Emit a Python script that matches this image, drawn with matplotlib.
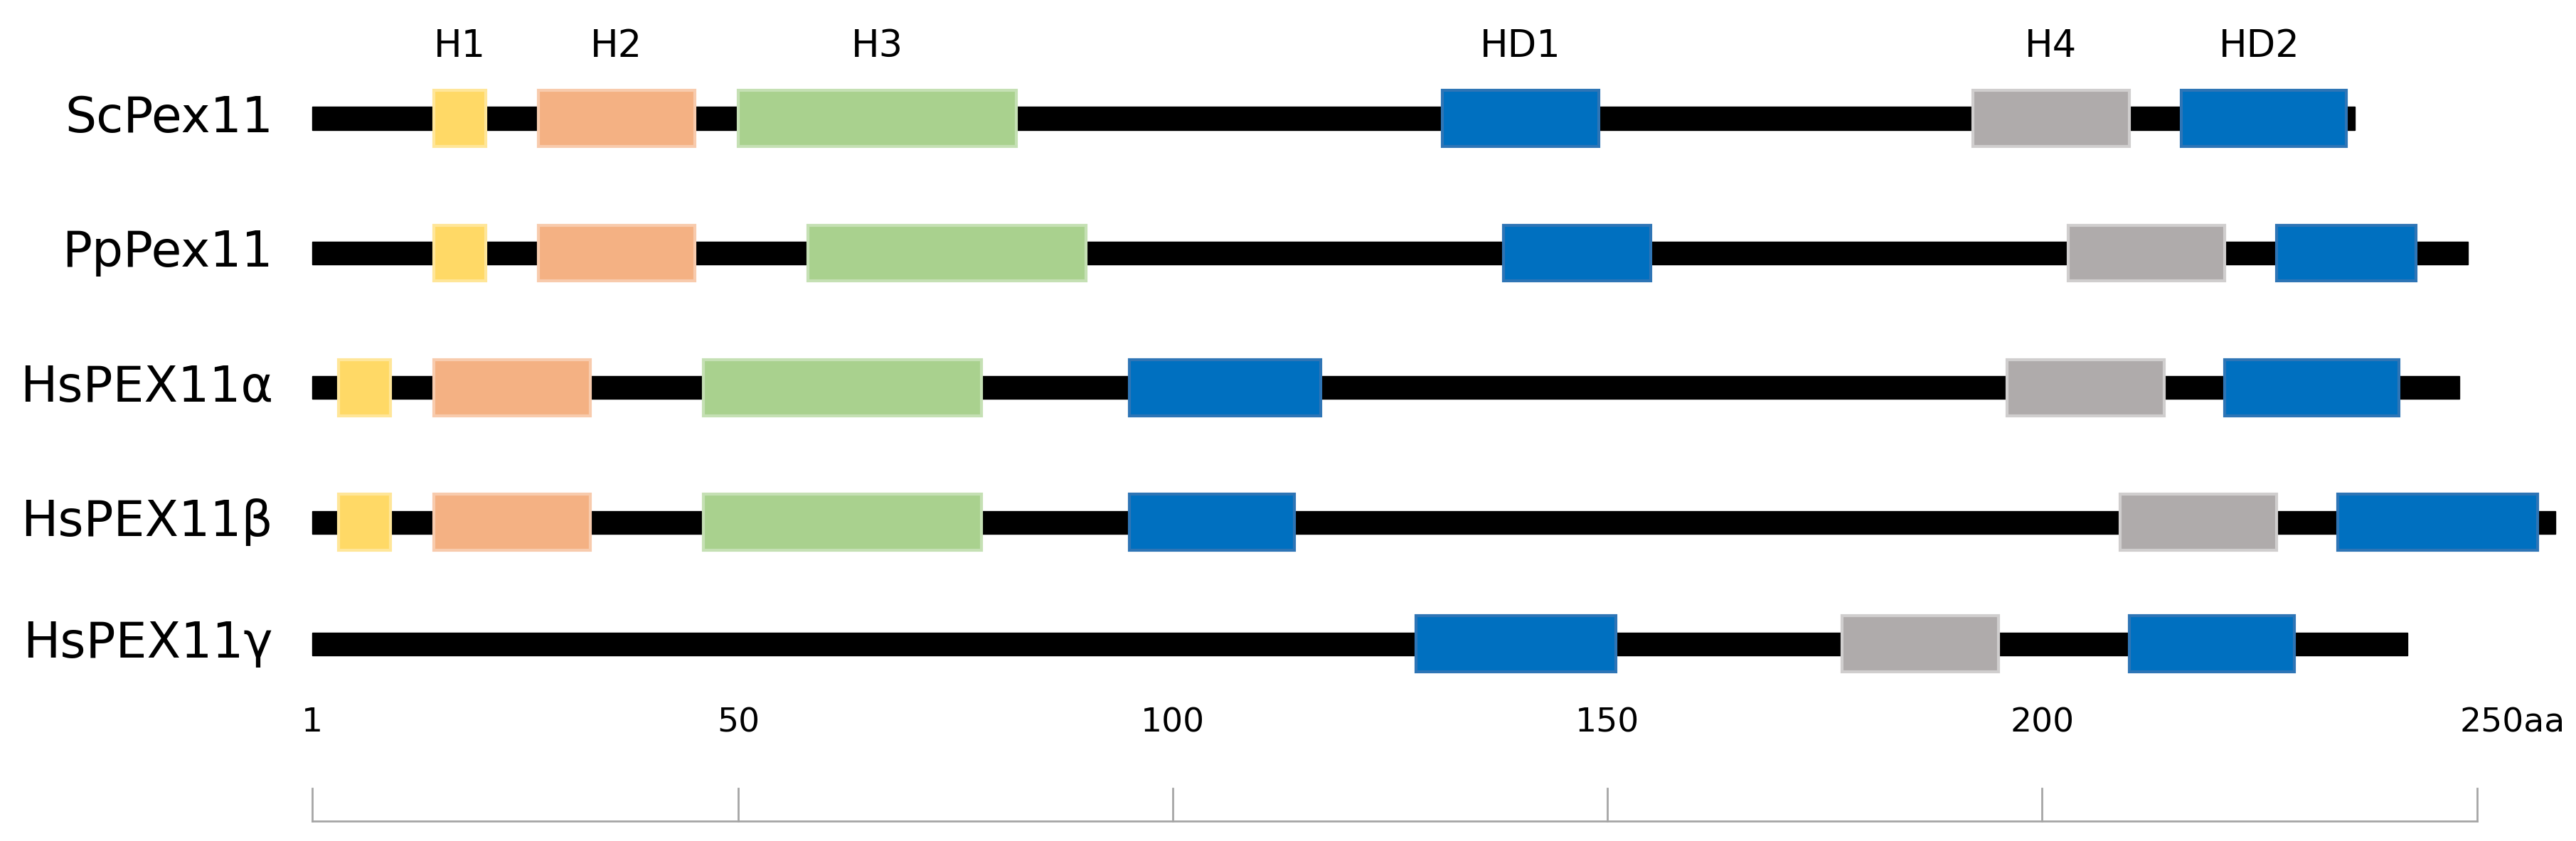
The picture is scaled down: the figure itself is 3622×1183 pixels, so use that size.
import matplotlib.pyplot as plt
from matplotlib.patches import Rectangle

proteins = ["ScPex11", "PpPex11", "HsPEX11\u03b1", "HsPEX11\u03b2", "HsPEX11\u03b3"]
lengths = [236, 249, 248, 259, 242]
# domains per protein: (name, start, end)
domains = [
    [("H1", 15, 21), ("H2", 27, 45), ("H3", 50, 82), ("HD", 131, 149), ("H4", 192, 210), ("HD", 216, 235)],
    [("H1", 15, 21), ("H2", 27, 45), ("H3", 58, 90), ("HD", 138, 155), ("H4", 203, 221), ("HD", 227, 243)],
    [("H1", 4, 10), ("H2", 15, 33), ("H3", 46, 78), ("HD", 95, 117), ("H4", 196, 214), ("HD", 221, 241)],
    [("H1", 4, 10), ("H2", 15, 33), ("H3", 46, 78), ("HD", 95, 114), ("H4", 209, 227), ("HD", 234, 257)],
    [("HD", 128, 151), ("H4", 177, 195), ("HD", 210, 229)],
]
top_labels = [("H1", 18), ("H2", 36), ("H3", 66), ("HD1", 140), ("H4", 201), ("HD2", 225)]
scale_ticks = [1, 50, 100, 150, 200, 250]
scale_labels = ["1", "50", "100", "150", "200", "250aa"]

colors = {"H1": ("#FFD966", "#FFE699"), "H2": ("#F4B183", "#F8CBAD"),
          "H3": ("#A9D18E", "#C5E0B4"), "HD": ("#0070C0", "#2E75B6"),
          "H4": ("#AFABAB", "#D0CECE")}

row_y = [72, 154, 236, 318, 392]

fig = plt.figure(figsize=(36.23, 11.83), dpi=100)
ax = fig.add_axes([0, 0, 1, 1])
ax.set_xlim(1 - 190 / 5.29, 1 + 1378 / 5.29)
ax.set_ylim(512, 0)
ax.axis("off")

for name, L, doms, y in zip(proteins, lengths, domains, row_y):
    ax.add_patch(Rectangle((1, y - 7), L - 1, 14, color="black", zorder=1))
    for d, s, e in doms:
        fc, ec = colors[d]
        ax.add_patch(Rectangle((s, y - 17), e - s, 34, facecolor=fc, edgecolor=ec,
                               linewidth=3, zorder=2))
    ax.text(-3.5, y, name, ha="right", va="center", fontsize=50, family="Calibri, DejaVu Sans".split(", ")[1])

for t, x in top_labels:
    ax.text(x, 28, t, ha="center", va="center", fontsize=38)

for t, lab in zip(scale_ticks, scale_labels):
    ax.text(t, 440, lab, ha="left" if lab == "250aa" else "center", va="center", fontsize=34)
    if lab == "250aa":
        ax.texts[-1].set_x(t - 2)
    ax.plot([t, t], [480, 500], color="#A6A6A6", lw=2)
ax.plot([1, 250], [500, 500], color="#A6A6A6", lw=2)

fig.savefig("out.png", dpi=100)
